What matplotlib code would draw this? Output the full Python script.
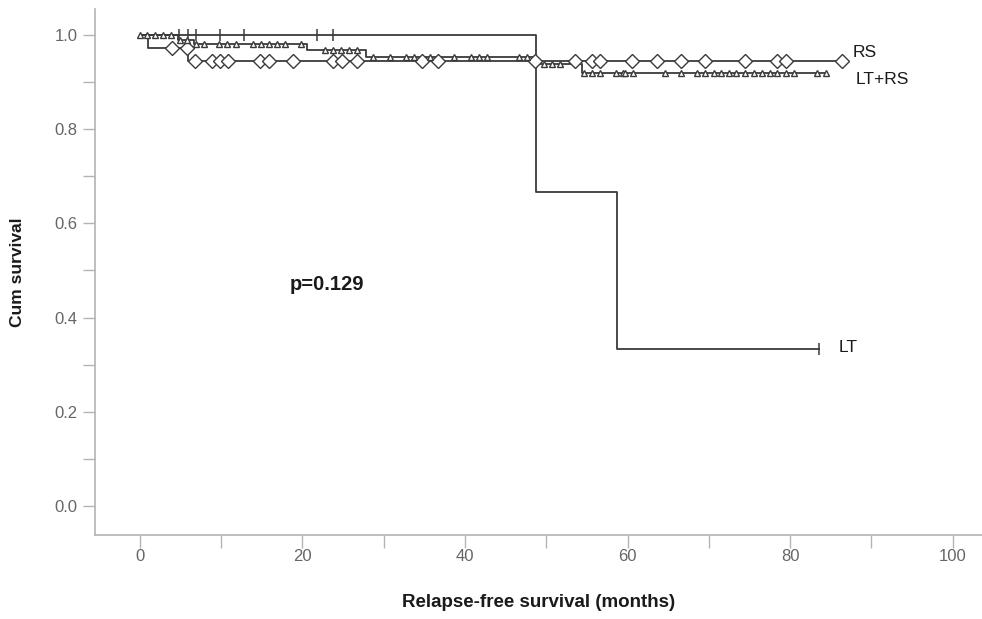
import numpy as np
import matplotlib
matplotlib.use("Agg")
import matplotlib.pyplot as plt

plt.rcParams['font.family'] = ['Liberation Sans', 'DejaVu Sans']

# Kaplan-Meier steps: (event time, survival after the event)
rs_events = [1.0, 6.0]
rs_surv = [0.972, 0.944]
rs_censor = [4.0, 5.8, 6.8, 8.9, 9.9, 10.9, 14.8, 15.9, 18.8, 23.8, 24.9, 26.7,
             34.7, 36.7, 48.6, 53.5, 55.6, 56.6, 60.6, 63.6, 66.6, 69.5, 74.5,
             78.4, 79.5, 86.4]

ltrs_events = [4.7, 6.7, 20.6, 27.8, 48.8, 54.4]
ltrs_surv = [0.989, 0.980, 0.967, 0.953, 0.937, 0.918]
ltrs_censor = [0.0, 0.9, 1.9, 2.9, 3.9, 4.9, 5.8, 6.9, 7.9, 9.8, 10.8, 11.8,
               13.9, 14.9, 15.9, 16.9, 17.9, 19.8, 22.8, 23.8, 24.7, 25.8, 26.7,
               28.7, 30.8, 32.7, 33.7, 35.7, 38.7, 40.7, 41.7, 42.7, 46.6, 47.6,
               49.7, 50.7, 51.7, 54.6, 55.6, 56.6, 58.6, 59.5, 59.7, 60.7, 64.6,
               66.6, 68.5, 69.5, 70.6, 71.5, 72.5, 73.4, 74.5, 75.5, 76.5, 77.5,
               78.4, 79.5, 80.5, 83.3, 84.4]

lt_events = [48.8, 58.7]
lt_surv = [0.667, 0.333]
lt_censor = [4.8, 5.9, 6.9, 9.9, 12.8, 21.8, 23.8, 83.6]

x_ticks = np.arange(0, 101, 20)
y_ticks = np.arange(0, 1.01, 0.2)

line_col = '#3a3a3a'
axis_col = '#b4b4b4'


def km_curve(events, surv, censor):
    t = np.concatenate([[0.0], events, [max(censor + events)]])
    s = np.concatenate([[1.0], surv, [surv[-1]]])
    # survival level at each censor time
    idx = np.searchsorted(events, censor, side='right')
    levels = np.concatenate([[1.0], surv])
    return t, s, np.array(censor), levels[idx]


fig = plt.figure(figsize=(9.82, 6.19), dpi=100)
ax = fig.add_axes([0.0967, 0.1357, 0.9033, 0.8493])

for ev, sv, cs, mk, ms in [(lt_events, lt_surv, lt_censor, '|', 9),
                           (rs_events, rs_surv, rs_censor, 'D', 7),
                           (ltrs_events, ltrs_surv, ltrs_censor, '^', 4.5)]:
    t, s, ct, cy = km_curve(ev, sv, cs)
    ax.step(t, s, where='post', color=line_col, lw=1.3, zorder=2)
    if mk == '|':
        ax.plot(ct, cy, ls='none', marker=mk, ms=ms, mew=1.1, color=line_col, zorder=3)
    else:
        ax.plot(ct, cy, ls='none', marker=mk, ms=ms, mfc='white', mec=line_col,
                mew=1.0, zorder=3)

ax.text(87.7, 0.963, 'RS', fontsize=12.5, va='center', color='#1a1a1a')
ax.text(88.0, 0.906, 'LT+RS', fontsize=12.5, va='center', color='#1a1a1a')
ax.text(86.0, 0.337, 'LT', fontsize=12.5, va='center', color='#1a1a1a')
ax.text(18.5, 0.469, 'p=0.129', fontsize=14.5, fontweight='bold', va='center',
        color='#1a1a1a')

ax.set_xlim(-5.5, 103.6)
ax.set_ylim(-0.0615, 1.054)
ax.set_xticks(x_ticks)
ax.set_xticks(np.arange(10, 100, 20), minor=True)
ax.set_yticks(y_ticks)
ax.set_yticks(np.arange(0.1, 1.0, 0.2), minor=True)
ax.set_yticklabels(['%.1f' % v for v in y_ticks])

for side in ['top', 'right']:
    ax.spines[side].set_visible(False)
for side in ['left', 'bottom']:
    ax.spines[side].set_color(axis_col)
    ax.spines[side].set_linewidth(1.2)

ax.tick_params(which='both', colors=axis_col, width=1.0, length=9)
ax.tick_params(axis='both', labelcolor='#666666', labelsize=12)
ax.tick_params(axis='x', pad=1)

ax.set_xlabel('Relapse-free survival (months)', fontsize=13.5, fontweight='bold',
              labelpad=22, color='#1a1a1a')
ax.set_ylabel('Cum survival', fontsize=12.5, fontweight='bold', labelpad=21,
              color='#1a1a1a')

fig.savefig('out.png', dpi=100)
